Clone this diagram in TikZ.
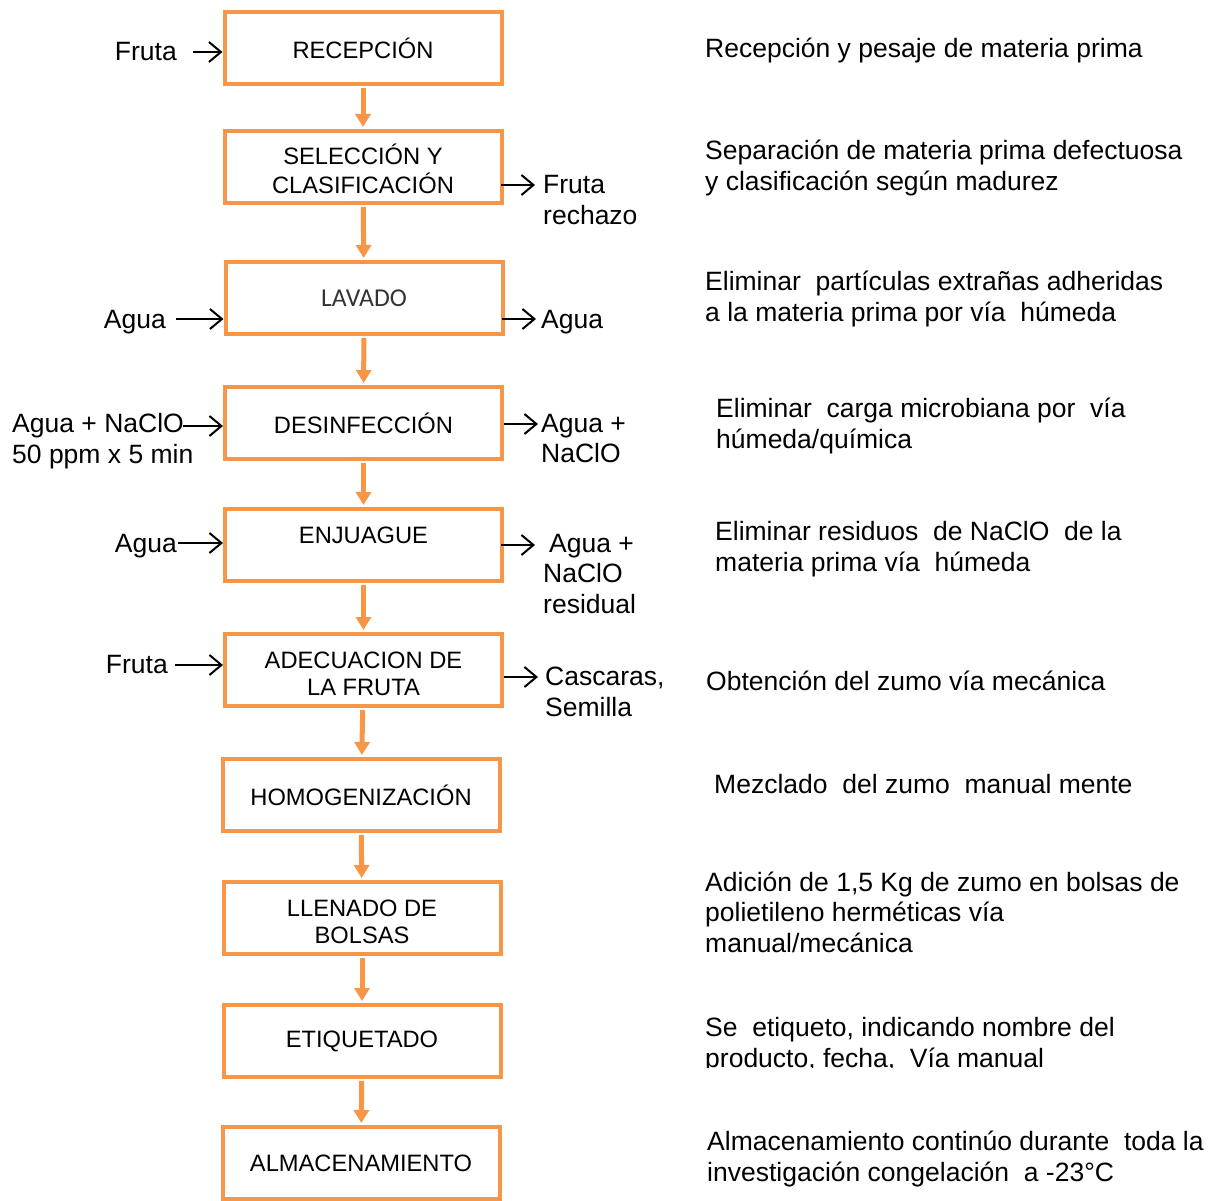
\documentclass[tikz,border=0pt]{standalone}
\usepackage{fontspec}
\setmainfont{Liberation Sans}
\newfontfamily\lightfont{Carlito}
\usepackage{tikz}
\usetikzlibrary{arrows.meta,positioning}
\definecolor{flowOrange}{HTML}{F79646}
\newcommand{\shiftedtext}[2]{\raisebox{#1}[\height][\depth]{\begin{tabular}{@{}c@{}}#2\end{tabular}}}

\begin{document}
\begin{tikzpicture}[x=1pt, y=1pt,
  stepbox/.style={rectangle, draw=flowOrange, line width=4pt, minimum width=277pt, minimum height=72pt, inner sep=0pt, align=center, font=\fontsize{23.7}{27}\selectfont},
  side/.style={inner sep=0pt, align=left, font=\fontsize{26.5}{30.5}\selectfont},
  desc/.style={side, anchor=west},
  flow/.style={-{Triangle[width=15pt,length=13pt]}, line width=5pt, draw=flowOrange, shorten <=2pt, shorten >=2pt},
  io/.style={-{Straight Barb[length=12pt,width=20pt]}, line width=2pt, black}
]
\useasboundingbox (0,0) rectangle (1223,-1201);

% Process steps
\node[stepbox] (rec) at (363,-48) {RECEPCIÓN};
\node[stepbox] (sel) at (363,-167) {\shiftedtext{-6pt}{SELECCIÓN Y\\CLASIFICACIÓN}};
\node[stepbox, font=\lightfont\fontsize{25.7}{29}\selectfont, text=black!80] (lav) at (364,-298) {LAVADO};
\node[stepbox] (des) at (363.5,-423) {DESINFECCIÓN};
\node[stepbox] (enj) at (363.5,-545) {\shiftedtext{7pt}{ENJUAGUE}};
\node[stepbox] (ade) at (363.5,-670) {\shiftedtext{-7pt}{ADECUACION DE\\LA FRUTA}};
\node[stepbox] (hom) at (361,-795) {HOMOGENIZACIÓN};
\node[stepbox] (lle) at (362,-918) {\shiftedtext{-6.5pt}{LLENADO DE\\BOLSAS}};
\node[stepbox] (eti) at (362,-1041) {ETIQUETADO};
\node[stepbox] (alm) at (361,-1163) {ALMACENAMIENTO};

\draw[flow] (rec) -- (sel);
\draw[flow] (sel) -- (lav);
\draw[flow] (lav) -- (des);
\draw[flow] (des) -- (enj);
\draw[flow] (enj) -- (ade);
\draw[flow] (ade) -- (hom);
\draw[flow] (hom) -- (lle);
\draw[flow] (lle) -- (eti);
\draw[flow] (eti) -- (alm);

% Inputs (left)
\node[side, anchor=east] (recFruta) at (177,-52) {Fruta};
\coordinate (recIn) at (193,-52);
\draw[io] (recIn) -- (recIn -| rec.west);

\node[side, anchor=east] (lavAgua) at (166,-322) {Agua};
\coordinate (lavIn) at (176,-319);
\draw[io] (lavIn) -- (lavIn -| lav.west);

\node[side, anchor=west] (desAgua) at (12,-441) {Agua + NaClO\\50 ppm x 5 min};
\coordinate (desIn) at (183,-426);
\draw[io] (desIn) -- (desIn -| des.west);

\node[side, anchor=east] (enjAgua) at (177,-546) {Agua};
\coordinate (enjIn) at (178,-543);
\draw[io] (enjIn) -- (enjIn -| enj.west);

\node[side, anchor=east] (adeFruta) at (168,-665) {Fruta};
\coordinate (adeIn) at (175,-665);
\draw[io] (adeIn) -- (adeIn -| ade.west);

% Outputs (right)
\coordinate (selOut) at (535,-185);
\draw[io] ([xshift=-3pt]selOut -| sel.east) -- (selOut);
\node[side, anchor=west] (selRech) at (543,-200) {Fruta\\rechazo};

\coordinate (lavOut) at (536,-319);
\draw[io] ([xshift=-3pt]lavOut -| lav.east) -- (lavOut);
\node[side, anchor=west] (lavAguaOut) at (541,-322) {Agua};

\coordinate (desOut) at (538,-424);
\draw[io] (desOut -| des.east) -- (desOut);
\node[side, anchor=west] (desAguaOut) at (541,-438.5) {Agua +\\NaClO};

\coordinate (enjOut) at (535,-545);
\draw[io] ([xshift=-3pt]enjOut -| enj.east) -- (enjOut);
\node[side, anchor=west] (enjAguaOut) at (543,-574) {\hspace*{6pt}Agua +\\NaClO\\residual};

\coordinate (adeOut) at (538,-677);
\draw[io] (adeOut -| ade.east) -- (adeOut);
\node[side, anchor=west] (adeCasc) at (545,-692) {Cascaras,\\Semilla};

% Descriptions
\node[desc] (recTxt) at (705,-50) {Recepción y pesaje de materia prima};
\node[desc] (selTxt) at (705,-168) {Separación de materia prima defectuosa\\y clasificación según madurez};
\node[desc] (lavTxt) at (705,-299) {Eliminar~ partículas extrañas adheridas\\a la materia prima por vía~ húmeda};
\node[desc] (desTxt) at (716,-426) {Eliminar~ carga microbiana por~ vía\\húmeda/química};
\node[desc] (enjTxt) at (715,-549) {Eliminar residuos~ de NaClO~ de la\\materia prima vía~ húmeda};
\node[desc] (adeTxt) at (706,-681) {Obtención del zumo vía mecánica};
\node[desc] (homTxt) at (714,-784) {Mezclado~ del zumo~ manual mente};
\node[desc] (lleTxt) at (705,-912) {Adición de 1,5 Kg de zumo en bolsas de\\polietileno herméticas vía\\manual/mecánica};
\begin{scope}
  \clip (690,-990) rectangle (1223,-1067);
  \node[desc] (etiTxt) at (705,-1045) {Se~ etiqueto, indicando nombre del\\producto, fecha,~ Vía manual};
\end{scope}
\node[desc] (almTxt) at (707,-1159) {Almacenamiento continúo durante~ toda la\\investigación congelación~ a -23°C};

\end{tikzpicture}
\end{document}
